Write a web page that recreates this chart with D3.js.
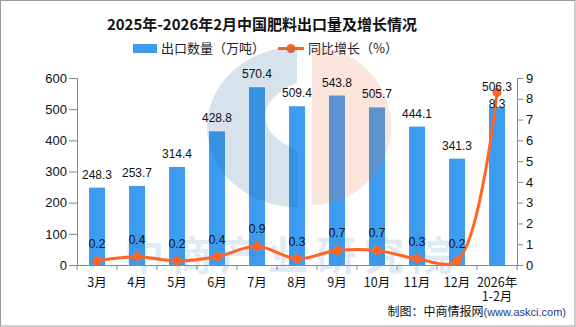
<!DOCTYPE html>
<html><head><meta charset="utf-8">
<script src="https://cdn.jsdelivr.net/npm/d3@7/dist/d3.min.js"></script>
<style>
html,body{margin:0;padding:0;background:#fff;}
svg{display:block;font-family:"Noto Sans CJK SC","Noto Sans",sans-serif;}
</style></head>
<body><svg id="c" width="576" height="327"></svg>
<script>
const categories = ["3月","4月","5月","6月","7月","8月","9月","10月","11月","12月","2026年\n1-2月"];
const exportVolume = [248.3,253.7,314.4,428.8,570.4,509.4,543.8,505.7,444.1,341.3,506.3];
const yoyGrowth = [0.2,0.4,0.2,0.4,0.9,0.3,0.7,0.7,0.3,0.2,8.3];
const leftTicks = [0,100,200,300,400,500,600];
const rightTicks = [0,1,2,3,4,5,6,7,8,9];
const title = "2025年-2026年2月中国肥料出口量及增长情况";
const legendBar = "出口数量（万吨）";
const legendLine = "同比增长（%）";
const footer1 = "制图：中商情报网";
const footer2 = "(www.askci.com)";

const svg = d3.select("#c");
const W = 576, H = 327;
const m = {l:77, r:517, t:78, b:265};
const barColor = "#3d9cf0", lineColor = "#ff6626";

svg.append("rect").attr("x",0.5).attr("y",0.5).attr("width",W-1.5).attr("height",H-1.5)
  .attr("fill","#fff").attr("stroke","#9a9a9a");

const x = d3.scaleBand().domain(categories).range([m.l,m.r]).paddingInner(0).paddingOuter(0);
const yL = d3.scaleLinear().domain([0,600]).range([m.b,m.t]);
const yR = d3.scaleLinear().domain([0,9]).range([m.b,m.t]);

// title
svg.append("text").attr("x",262).attr("y",30).attr("text-anchor","middle")
  .attr("font-size",15).attr("font-weight","bold").attr("fill","#111").text(title);

// legend
svg.append("rect").attr("x",133).attr("y",44).attr("width",24).attr("height",9).attr("fill",barColor);
svg.append("text").attr("x",161).attr("y",53).attr("font-size",13).attr("fill","#222").text(legendBar);
svg.append("line").attr("x1",278).attr("x2",304).attr("y1",48.5).attr("y2",48.5).attr("stroke",lineColor).attr("stroke-width",3);
svg.append("circle").attr("cx",291).attr("cy",48.5).attr("r",4.5).attr("fill",lineColor);
svg.append("text").attr("x",308).attr("y",53).attr("font-size",13).attr("fill","#222").text(legendLine);

// bars
const bw = 16;
svg.append("g").selectAll("rect").data(exportVolume).join("rect")
  .attr("x",(d,i)=>x(categories[i])+x.bandwidth()/2-bw/2)
  .attr("y",d=>yL(d)).attr("width",bw).attr("height",d=>m.b-yL(d)).attr("fill",barColor);

// watermark (semi-transparent overlay)
const wm = svg.append("g").attr("pointer-events","none");
wm.append("path").attr("fill","rgb(30,100,150)").attr("opacity",0.18)
  .attr("fill-rule","evenodd")
  .attr("d","M297,47 A90,80 0 0 0 297,207 L297,150 A70,40 0 0 1 297,83 Z");
wm.append("path").attr("fill","rgb(235,110,60)").attr("opacity",0.18)
  .attr("d","M312,47 A79,79 0 0 1 312,205 Z");
wm.append("text").attr("x",292).attr("y",270).attr("text-anchor","middle")
  .attr("font-size",40).attr("font-weight","bold").attr("letter-spacing",8)
  .attr("fill","rgb(60,130,190)").attr("opacity",0.16).text("中商产业研究院");

// axes
const axL = svg.append("g").attr("transform",`translate(${m.l},0)`)
  .call(d3.axisLeft(yL).tickValues(leftTicks).tickSize(8).tickPadding(2));
const axR = svg.append("g").attr("transform",`translate(${m.r},0)`)
  .call(d3.axisRight(yR).tickValues(rightTicks).tickSize(6).tickPadding(3));
const axB = svg.append("g").attr("transform",`translate(0,${m.b})`)
  .call(d3.axisBottom(x).tickSize(0).tickFormat(""));
[axL,axR,axB].forEach(a=>{
  a.select(".domain").attr("stroke","#888");
  a.selectAll(".tick line").attr("stroke","#888");
  a.selectAll("text").attr("font-size",13).attr("fill","#111").attr("font-family","'Liberation Sans',sans-serif");
});
// bottom band ticks
const bounds = categories.map(c=>x(c)).concat([m.r]);
svg.append("g").selectAll("line").data(bounds).join("line")
  .attr("x1",d=>d).attr("x2",d=>d).attr("y1",m.b).attr("y2",m.b+5).attr("stroke","#888");
// x labels
const xl = svg.append("g").selectAll("text").data(categories).join("text")
  .attr("text-anchor","middle").attr("font-size",12.5).attr("fill","#111")
  .attr("transform",d=>`translate(${x(d)+x.bandwidth()/2},287)`);
xl.each(function(d){
  const parts = d.split("\n");
  parts.forEach((p,j)=>d3.select(this).append("tspan").attr("x",0).attr("dy",j?14:0).text(p));
});

// line
const pts = yoyGrowth.map((v,i)=>[x(categories[i])+x.bandwidth()/2, yR(v)]);
svg.append("path").datum(pts).attr("fill","none").attr("stroke",lineColor).attr("stroke-width",3)
  .attr("d",d3.line().curve(d3.curveCatmullRom.alpha(0.5)));
svg.append("g").selectAll("circle").data(pts).join("circle")
  .attr("cx",d=>d[0]).attr("cy",d=>d[1]).attr("r",4.5).attr("fill",lineColor);

// labels
const lblFont = "'Liberation Sans',sans-serif";
const last = exportVolume.length-1;
svg.append("g").selectAll("text").data(exportVolume).join("text")
  .attr("x",(d,i)=>x(categories[i])+x.bandwidth()/2)
  .attr("y",(d,i)=>yL(d)-(i===last?16:9))
  .attr("text-anchor","middle").attr("font-size",12).attr("font-family",lblFont).attr("fill","#111")
  .text(d=>d.toFixed(1));
svg.append("g").selectAll("text").data(yoyGrowth).join("text")
  .attr("x",(d,i)=>pts[i][0])
  .attr("y",(d,i)=>i===last?pts[i][1]+15:pts[i][1]-13)
  .attr("text-anchor","middle").attr("font-size",12).attr("font-family",lblFont).attr("fill","#111")
  .text(d=>d.toFixed(1));

// footer
const ft = svg.append("text").attr("x",566).attr("y",316).attr("text-anchor","end").attr("font-size",12);
ft.append("tspan").attr("fill","#111").text(footer1);
ft.append("tspan").attr("fill","#1a3a8a").attr("font-size",11).attr("font-family","'Liberation Sans',sans-serif").text(footer2);
</script></body></html>
